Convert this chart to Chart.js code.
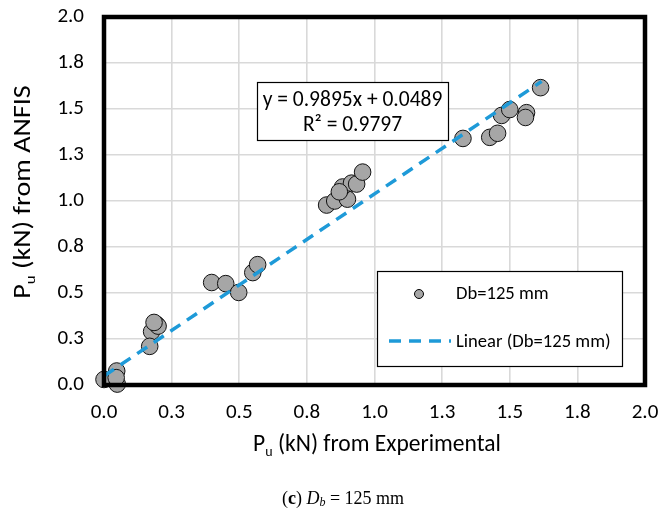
<!DOCTYPE html>
<html><head><meta charset="utf-8">
<script src="https://cdn.jsdelivr.net/npm/chart.js@4"></script>
<style>html,body{margin:0;padding:0;background:#fff}#wrap{width:661px;height:515px;position:relative}</style>
</head><body><div id="wrap"><canvas id="c" width="661" height="515"></canvas></div>
<script>
const expX = [0.00,0.047,0.049,0.045, 0.194,0.176,0.169,0.20,0.185, 0.398,0.45,0.498,0.55,0.568, 0.823,0.853,0.90,0.882,0.915,0.934,0.956,0.87, 1.327,1.426,1.455,1.47,1.50,1.562,1.558,1.614];
const anfisY = [0.03,0.076,0.005,0.04, 0.33,0.29,0.21,0.32,0.34, 0.557,0.551,0.503,0.611,0.654, 0.978,1.0,1.01,1.076,1.097,1.092,1.157,1.05, 1.34,1.346,1.368,1.465,1.497,1.48,1.454,1.616];
const trendX = [0, 1.618];
const trendY = [0.049, 1.650];
const tickVals = [0,0.25,0.5,0.75,1.0,1.25,1.5,1.75,2.0];
const tickLabels = ['0.0','0.3','0.5','0.8','1.0','1.3','1.5','1.8','2.0'];
const seriesName = 'Db=125 mm';
const trendName = 'Linear (Db=125 mm)';
const eqLines = ['y = 0.9895x + 0.0489', 'R² = 0.9797'];

const FONT = 'Carlito, "Open Sans", sans-serif';
const BLUE = '#1E9AD8';
const TARGET = {left:104, right:645, top:17, bottom:385};

function subText(ctx, parts, x, y, size){
  let w = 0;
  const f = p => (p.sub ? Math.round(size*0.6) : size) + 'px ' + FONT;
  parts.forEach(p=>{ctx.font = f(p); w += ctx.measureText(p.t).width;});
  let cx = x - w/2;
  parts.forEach(p=>{
    ctx.font = f(p);
    ctx.fillText(p.t, cx, p.sub ? y+size*0.3 : y);
    cx += ctx.measureText(p.t).width;
  });
}

const deco = {
  id:'deco',
  afterDraw(chart){
    const ctx = chart.ctx, a = chart.chartArea;
    ctx.save();
    ctx.strokeStyle='#000'; ctx.lineWidth=4.5;
    ctx.strokeRect(a.left, a.top, a.right-a.left, a.bottom-a.top);
    // equation box
    ctx.lineWidth=1.2;
    ctx.fillStyle='#fff';
    ctx.fillRect(257,82,191,58); ctx.strokeRect(257.5,82.5,191,58);
    ctx.fillStyle='#000'; ctx.textBaseline='middle'; ctx.textAlign='center';
    ctx.font='21.5px '+FONT;
    ctx.fillText(eqLines[0], 352.5, 101);
    ctx.fillText(eqLines[1], 352.5, 126);
    // legend box
    ctx.fillStyle='#fff';
    ctx.fillRect(377,271,245,95); ctx.strokeStyle='#000'; ctx.strokeRect(377.5,271.5,245,95);
    ctx.beginPath(); ctx.arc(419,294,4.5,0,Math.PI*2); ctx.fillStyle='#A6A6A6'; ctx.fill(); ctx.lineWidth=1; ctx.stroke();
    ctx.strokeStyle=BLUE; ctx.lineWidth=3.5; ctx.setLineDash([12,8]);
    ctx.beginPath(); ctx.moveTo(389,341); ctx.lineTo(451,341); ctx.stroke(); ctx.setLineDash([]);
    ctx.fillStyle='#000'; ctx.textAlign='left'; ctx.font='18.6px '+FONT;
    ctx.fillText(seriesName, 456, 294);
    ctx.fillText(trendName, 456, 342);
    // axis titles
    ctx.textAlign='left';
    subText(ctx,[{t:'P'},{t:'u',sub:true},{t:' (kN) from Experimental'}], 377, 445, 23.5);
    ctx.translate(24,192); ctx.rotate(-Math.PI/2); ctx.scale(1.2,1);
    subText(ctx,[{t:'P'},{t:'u',sub:true},{t:' (kN) from ANFIS'}], 0, 0, 23.5);
    ctx.setTransform(1,0,0,1,0,0);
    // caption
    const S='"Liberation Serif", serif';
    const cap=[{t:'(',f:'18px '+S},{t:'c',f:'bold 18px '+S},{t:') ',f:'18px '+S},{t:'D',f:'italic 18px '+S},{t:'b',f:'italic 12px '+S,sub:true},{t:' = 125 mm',f:'18px '+S}];
    let w=0; cap.forEach(p=>{ctx.font=p.f; w+=ctx.measureText(p.t).width;});
    let x=343-w/2;
    cap.forEach(p=>{ctx.font=p.f; ctx.fillText(p.t,x,p.sub?503:499); x+=ctx.measureText(p.t).width;});
    ctx.restore();
  }
};

const pad = {left:0,right:661-TARGET.right,top:TARGET.top,bottom:0};
const chart = new Chart(document.getElementById('c'),{
  type:'scatter',
  data:{datasets:[
    {label:trendName, type:'line', data:trendX.map((x,i)=>({x, y:trendY[i]})), borderColor:BLUE, borderWidth:3.5, borderDash:[12,8], pointRadius:0, fill:false, order:0, clip:false},
    {label:seriesName, data:expX.map((x,i)=>({x, y:anfisY[i]})), backgroundColor:'#A6A6A6', borderColor:'#111', borderWidth:1, pointRadius:8.3, order:1, clip:false}
  ]},
  options:{
    responsive:false, animation:false, devicePixelRatio:1,
    layout:{padding:{...pad}},
    plugins:{legend:{display:false}, tooltip:{enabled:false}},
    scales:{
      x:{type:'linear', min:0, max:2,
        afterBuildTicks:s=>{s.ticks=tickVals.map(v=>({value:v}));},
        afterFit:s=>{s.height=515-TARGET.bottom; s.paddingLeft=0; s.paddingRight=0; s.paddingTop=0; s.paddingBottom=0;},
        ticks:{callback:(v)=>tickLabels[tickVals.indexOf(v)], font:{family:FONT,size:21}, color:'#000', padding:15, maxRotation:0},
        grid:{color:'#D9D9D9', lineWidth:1.6, drawTicks:false}, border:{display:false}},
      y:{type:'linear', min:0, max:2,
        afterBuildTicks:s=>{s.ticks=tickVals.map(v=>({value:v}));},
        afterFit:s=>{s.width=TARGET.left; s.paddingLeft=0; s.paddingRight=0; s.paddingTop=0; s.paddingBottom=0;},
        ticks:{callback:(v)=>tickLabels[tickVals.indexOf(v)], font:{family:FONT,size:21}, color:'#000', padding:20},
        grid:{color:'#D9D9D9', lineWidth:1.6, drawTicks:false}, border:{display:false}}
    }
  },
  plugins:[deco]
});
for (let k=0;k<3;k++){
  const a = chart.chartArea;
  if (!a) break;
  pad.top += TARGET.top - a.top;
  pad.right += a.right - TARGET.right;
  pad.bottom += a.bottom - TARGET.bottom;
  pad.left += TARGET.left - a.left;
  chart.config.options.layout.padding = {...pad};
  chart.update();
}
</script></body></html>
